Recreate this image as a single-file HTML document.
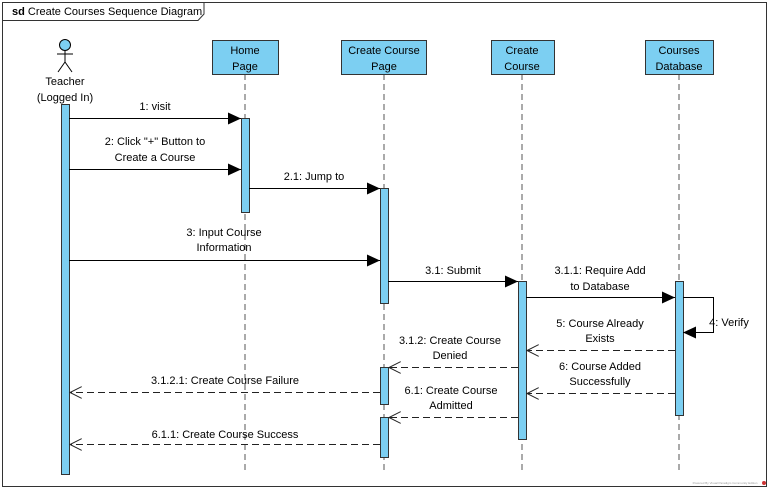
<!DOCTYPE html>
<html><head><style>body{margin:0;background:#fff}svg{display:block;font-family:"Liberation Sans",sans-serif;font-size:11px}</style></head><body>
<svg width="770" height="490" viewBox="0 0 770 490">
<defs>
<marker id="f" markerWidth="14" markerHeight="12" refX="13" refY="6" orient="auto" markerUnits="userSpaceOnUse"><path d="M0,0 L13,6 L0,12z" fill="#000"/></marker>
<marker id="o" markerWidth="14" markerHeight="12" refX="12" refY="6" orient="auto" markerUnits="userSpaceOnUse"><path d="M0,0 L12,6 L0,12" fill="none" stroke="#222" stroke-width="1"/></marker>
</defs>
<rect x="2.5" y="2.5" width="764" height="484" fill="#fff" stroke="#333"/>
<path d="M2.5,20.5 H198 L204,14 V2.5" fill="none" stroke="#333"/>
<text x="12" y="15"><tspan font-weight="bold">sd</tspan> Create Courses Sequence Diagram</text>
<!-- actor -->
<circle cx="65" cy="45" r="5.5" fill="#7ccff2" stroke="#000"/>
<path d="M65,50.5 V62 M57,54 H73 M65,62 L58,72 M65,62 L72,72" stroke="#000" fill="none"/>
<text x="65" y="85" text-anchor="middle">Teacher</text>
<text x="65" y="101" text-anchor="middle">(Logged In)</text>
<!-- lifelines -->
<g stroke="#555" stroke-dasharray="6,4" fill="none">
<path d="M245,74V472 M384,74V472 M522,74V472 M679,74V472"/>
</g>
<g fill="#7ccff2" stroke="#333">
<rect x="212.5" y="40.5" width="66" height="34"/>
<rect x="341.5" y="40.5" width="85" height="34"/>
<rect x="491.5" y="40.5" width="63" height="34"/>
<rect x="645.5" y="40.5" width="68" height="34"/>
</g>
<g text-anchor="middle">
<text x="245" y="54">Home</text><text x="245" y="70">Page</text>
<text x="384" y="54">Create Course</text><text x="384" y="70">Page</text>
<text x="522" y="54">Create</text><text x="522" y="70">Course</text>
<text x="679" y="54">Courses</text><text x="679" y="70">Database</text>
</g>
<!-- activations -->
<g fill="#7ccff2" stroke="#333">
<rect x="61.5" y="104.5" width="8" height="370"/>
<rect x="241.5" y="118.5" width="8" height="94"/>
<rect x="380.5" y="188.5" width="8" height="115"/>
<rect x="380.5" y="367.5" width="8" height="37"/>
<rect x="380.5" y="417.5" width="8" height="40"/>
<rect x="518.5" y="281.5" width="8" height="158"/>
<rect x="675.5" y="281.5" width="8" height="134"/>
</g>
<!-- sync messages -->
<g stroke="#000" fill="none" marker-end="url(#f)">
<path d="M69,118.5 H241"/>
<path d="M69,169.5 H241"/>
<path d="M249,188.5 H380"/>
<path d="M69,260.5 H380"/>
<path d="M388,281.5 H518"/>
<path d="M526,297.5 H675"/>
<path d="M683,297.5 H713.5 V332.5 H683"/>
</g>
<g stroke="#222" fill="none" stroke-dasharray="7,4" marker-end="url(#o)">
<path d="M675,350.5 H527"/>
<path d="M518,367.5 H389"/>
<path d="M675,393.5 H527"/>
<path d="M380,392.5 H70"/>
<path d="M518,417.5 H389"/>
<path d="M380,444.5 H70"/>
</g>
<g text-anchor="middle">
<text x="155" y="110">1: visit</text>
<text x="155" y="145">2: Click "+" Button to</text><text x="155" y="161">Create a Course</text>
<text x="314" y="180">2.1: Jump to</text>
<text x="224" y="236">3: Input Course</text><text x="224" y="251">Information</text>
<text x="453" y="274">3.1: Submit</text>
<text x="600" y="274">3.1.1: Require Add</text><text x="600" y="290">to Database</text>
<text x="729" y="326">4: Verify</text>
<text x="600" y="327">5: Course Already</text><text x="600" y="342">Exists</text>
<text x="450" y="344">3.1.2: Create Course</text><text x="450" y="359">Denied</text>
<text x="600" y="370">6: Course Added</text><text x="600" y="385">Successfully</text>
<text x="225" y="384">3.1.2.1: Create Course Failure</text>
<text x="451" y="394">6.1: Create Course</text><text x="451" y="409">Admitted</text>
<text x="225" y="438">6.1.1: Create Course Success</text>
</g>
<text x="725" y="484" font-size="3" fill="#999" text-anchor="middle">Powered By Visual Paradigm Community Edition</text>
<circle cx="764" cy="483" r="2" fill="#c33"/>
</svg>
</body></html>
